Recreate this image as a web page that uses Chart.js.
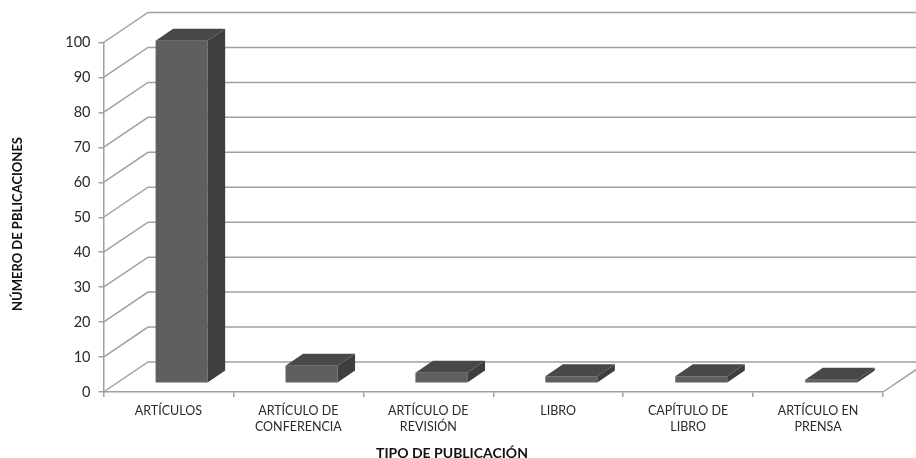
<!DOCTYPE html>
<html lang="es">

<head>
    <meta charset="UTF-8" />
    <title>Tipo de publicación</title>
    <style>
        html, body { margin: 0; padding: 0; background: #fff; }
        canvas { display: block; }
    </style>
</head>

<body>
    <script src="https://cdn.jsdelivr.net/npm/chart.js"></script>
    <canvas id="chart" width="916" height="458" role="img" aria-label="Número de publicaciones por tipo"></canvas>
    <script>
        "use strict";
        const categories = [
            ["ARTÍCULOS"],
            ["ARTÍCULO DE", "CONFERENCIA"],
            ["ARTÍCULO DE", "REVISIÓN"],
            ["LIBRO"],
            ["CAPÍTULO DE", "LIBRO"],
            ["ARTÍCULO EN", "PRENSA"],
        ];
        const publications = [98, 5, 3, 2, 2, 1];
        const xTitle = "TIPO DE PUBLICACIÓN";
        const yTitle = "NÚMERO DE PBLICACIONES";

        // fake 3d: how far the back wall sits from the front plane
        const DEPTH_X = 44.5;
        const DEPTH_Y = 30;
        const BAR_NEAR = 0.295;
        const BAR_FAR = 0.69;
        const FONT = "Lato, Carlito, 'Open Sans', sans-serif";
        const GRID = "#a0a0a0";

        const walls = {
            id: "walls",
            beforeDatasetsDraw(chart) {
                const { ctx, scales: { x, y } } = chart;
                ctx.save();
                ctx.strokeStyle = GRID;
                ctx.lineWidth = 1.5;
                y.ticks.forEach((t) => {
                    const py = y.getPixelForValue(t.value);
                    ctx.beginPath();
                    ctx.moveTo(x.left, py);
                    ctx.lineTo(x.left + DEPTH_X, py - DEPTH_Y);
                    ctx.lineTo(x.right + DEPTH_X, py - DEPTH_Y);
                    ctx.stroke();
                });
                ctx.beginPath();
                ctx.moveTo(x.right, y.bottom);
                ctx.lineTo(x.right + DEPTH_X, y.bottom - DEPTH_Y);
                ctx.stroke();
                ctx.restore();
            },
            // front faces are the library's bars, pushed back onto the floor
            beforeDatasetDraw(chart) {
                chart.ctx.save();
                chart.ctx.translate(DEPTH_X * BAR_NEAR, -DEPTH_Y * BAR_NEAR);
            },
            afterDatasetDraw(chart, args) {
                const { ctx } = chart;
                const dx = DEPTH_X * (BAR_FAR - BAR_NEAR);
                const dy = DEPTH_Y * (BAR_FAR - BAR_NEAR);
                chart.getDatasetMeta(args.index).data.forEach((bar) => {
                    const l = bar.x - bar.width / 2;
                    const r = bar.x + bar.width / 2;
                    ctx.fillStyle = "#3e3e3e";
                    ctx.beginPath();
                    ctx.moveTo(r, bar.y);
                    ctx.lineTo(r + dx, bar.y - dy);
                    ctx.lineTo(r + dx, bar.base - dy);
                    ctx.lineTo(r, bar.base);
                    ctx.closePath();
                    ctx.fill();
                    ctx.fillStyle = "#484848";
                    ctx.beginPath();
                    ctx.moveTo(l, bar.y);
                    ctx.lineTo(l + dx, bar.y - dy);
                    ctx.lineTo(r + dx, bar.y - dy);
                    ctx.lineTo(r, bar.y);
                    ctx.closePath();
                    ctx.fill();
                });
                ctx.restore();
            },
            afterDraw(chart) {
                const { ctx } = chart;
                ctx.save();
                ctx.fillStyle = "#111";
                ctx.textAlign = "center";
                ctx.textBaseline = "middle";
                ctx.font = "bold 14px " + FONT;
                ctx.fillText(xTitle, 452, 453);
                ctx.font = "bold 13px " + FONT;
                ctx.translate(18, 224);
                ctx.rotate(-Math.PI / 2);
                ctx.fillText(yTitle, 0, 0);
                ctx.restore();
            },
        };

        new Chart(document.getElementById("chart").getContext("2d"), {
            type: "bar",
            data: {
                labels: categories,
                datasets: [{
                    data: publications,
                    backgroundColor: "#5f5f5f",
                    barPercentage: 0.4,
                    categoryPercentage: 1,
                }],
            },
            plugins: [walls],
            options: {
                responsive: false,
                animation: false,
                layout: { padding: { top: 42.5, right: 33, left: 0, bottom: 0 } },
                plugins: { legend: { display: false }, tooltip: { enabled: false } },
                scales: {
                    x: {
                        afterFit(scale) { scale.height = 66; },
                        grid: { drawOnChartArea: false, color: GRID, lineWidth: 1.5, tickLength: 5 },
                        border: { color: GRID, width: 1.5 },
                        ticks: {
                            color: "#2a2a2a",
                            padding: 6,
                            maxRotation: 0,
                            autoSkip: false,
                            font: { family: FONT, size: 12.5, lineHeight: 1.3 },
                        },
                    },
                    y: {
                        min: 0,
                        max: 100,
                        afterFit(scale) { scale.width = 103.5; },
                        grid: { drawOnChartArea: false, color: GRID, lineWidth: 1.5, tickLength: 5 },
                        border: { color: GRID, width: 1.5 },
                        ticks: {
                            stepSize: 10,
                            color: "#2a2a2a",
                            padding: 8,
                            font: { family: FONT, size: 14.5 },
                        },
                    },
                },
            },
        });
    </script>
</body>

</html>
